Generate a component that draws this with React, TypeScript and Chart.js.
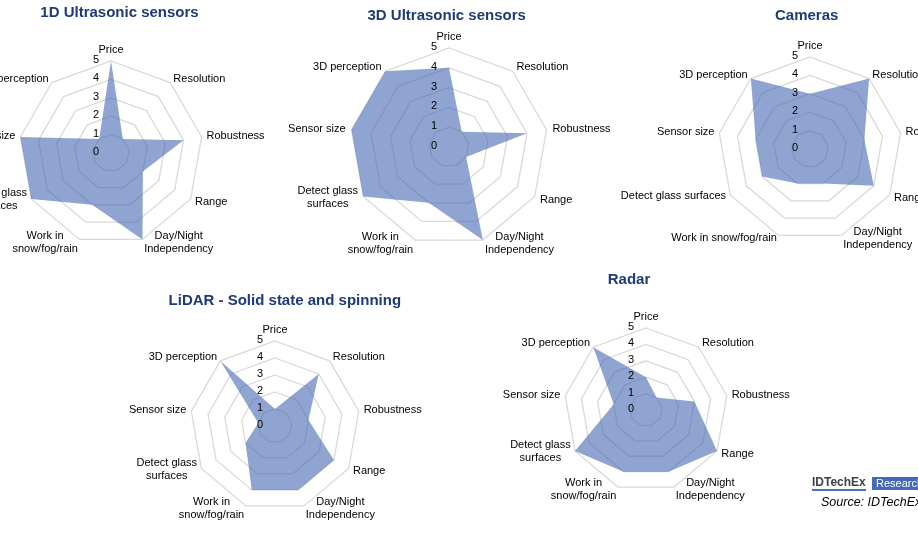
import React, { useEffect, useRef } from "react";
import { Chart, registerables } from "chart.js";

Chart.register(...registerables);

// ---------- DATA ----------
const categories = [
  "Price",
  "Resolution",
  "Robustness",
  "Range",
  "Day/Night Independency",
  "Work in snow/fog/rain",
  "Detect glass surfaces",
  "Sensor size",
  "3D perception",
];

// wrapped label variants (as shown in the panels)
const labelsWrapped: string[][] = [
  ["Price"],
  ["Resolution"],
  ["Robustness"],
  ["Range"],
  ["Day/Night", "Independency"],
  ["Work in", "snow/fog/rain"],
  ["Detect glass", "surfaces"],
  ["Sensor size"],
  ["3D perception"],
];
const labelsCameras: string[][] = [
  ["Price"],
  ["Resolution"],
  ["Robustness"],
  ["Range"],
  ["Day/Night", "Independency"],
  ["Work in snow/fog/rain"],
  ["Detect glass surfaces"],
  ["Sensor size"],
  ["3D perception"],
];

const tickValues = [0, 1, 2, 3, 4, 5];

const ultrasonic1D = [5, 1, 4, 2, 5, 3, 5, 5, 1];
const ultrasonic3D = [4, 1, 4, 1, 5, 3, 5, 5, 5];
const cameras = [3, 5, 3, 4, 2, 2, 3, 3, 5];
const lidar = [1, 4, 2, 4, 4, 4, 2, 1, 5];
const radar = [2, 1, 3, 5, 4, 4, 5, 2, 5];

const titles = [
  "1D Ultrasonic sensors",
  "3D Ultrasonic sensors",
  "Cameras",
  "LiDAR - Solid state and spinning",
  "Radar",
];

// ---------- STYLE ----------
const W = 918;
const H = 538;
const FONT = "'Liberation Sans', Arial, Helvetica, sans-serif";
const FILL = "rgba(68,103,178,0.6)";
const GRID = "#D9D9D9";
const TITLE_COLOR = "#1F3A78";

type PanelProps = {
  values: number[];
  labels: string[][];
  cx: number;
  cy: number;
  r: number;
  pad: number;
};

function makeTextPlugin(labels: string[][], pad: number) {
  return {
    id: "panelText",
    afterDraw(chart: any) {
      const s = chart.scales.r;
      const ctx = chart.ctx as CanvasRenderingContext2D;
      ctx.save();
      ctx.fillStyle = "#000";
      ctx.font = `11px ${FONT}`;
      // tick labels
      ctx.textAlign = "right";
      ctx.textBaseline = "middle";
      tickValues.forEach((v) => {
        const d = s.getDistanceFromCenterForValue(v);
        ctx.fillText(String(v), s.xCenter - 12, s.yCenter - d - 1);
      });
      // point labels
      const lh = 13;
      labels.forEach((lines, i) => {
        const p = s.getPointPosition(i, s.drawingArea + pad);
        const c = Math.cos(p.angle);
        const sn = Math.sin(p.angle);
        const widths = lines.map((l) => ctx.measureText(l).width);
        const bw = Math.max(...widths);
        if (Math.abs(c) < 0.05 && sn < 0) {
          ctx.textAlign = "center";
          ctx.textBaseline = "alphabetic";
          ctx.fillText(lines[0], s.xCenter, s.yCenter - s.drawingArea - 8.5);
          return;
        }
        const left = c > 0 ? p.x : p.x - bw;
        let yMid = p.y - ((lines.length - 1) * lh) / 2;
        if (sn > 0.5) yMid -= 2;
        ctx.textAlign = "center";
        ctx.textBaseline = "middle";
        lines.forEach((l, k) => {
          ctx.fillText(l, left + bw / 2, yMid + k * lh);
        });
      });
      ctx.restore();
    },
  };
}

function RadarPanel({ values, labels, cx, cy, r, pad }: PanelProps) {
  const ref = useRef<HTMLCanvasElement | null>(null);
  useEffect(() => {
    if (!ref.current) return;
    const chart = new Chart(ref.current, {
      type: "radar",
      data: {
        labels: categories,
        datasets: [
          {
            data: values,
            backgroundColor: FILL,
            borderWidth: 0,
            borderColor: "rgba(0,0,0,0)",
            pointRadius: 0,
            pointHoverRadius: 0,
            fill: true,
            tension: 0,
          },
        ],
      },
      options: {
        responsive: false,
        animation: false,
        events: [],
        layout: {
          padding: {
            left: cx - r,
            top: cy - r,
            right: W - cx - r,
            bottom: H - cy - r,
          },
        },
        plugins: {
          legend: { display: false },
          tooltip: { enabled: false },
          title: { display: false },
        },
        scales: {
          r: {
            min: 0,
            max: 5,
            ticks: { stepSize: 1, display: false },
            pointLabels: { display: false },
            angleLines: { display: false },
            grid: { color: GRID, lineWidth: 1.3 },
          },
        },
      } as any,
      plugins: [makeTextPlugin(labels, pad)],
    });
    return () => chart.destroy();
  }, []);
  return (
    <canvas
      ref={ref}
      width={W}
      height={H}
      style={{ position: "absolute", left: 0, top: 0, width: W, height: H }}
    />
  );
}

function Title({ text, cx, cy }: { text: string; cx: number; cy: number }) {
  return (
    <div
      style={{
        position: "absolute",
        left: cx - 200,
        width: 400,
        top: cy - 9,
        height: 18,
        lineHeight: "18px",
        textAlign: "center",
        font: `bold 15px ${FONT}`,
        color: TITLE_COLOR,
        whiteSpace: "nowrap",
      }}
    >
      {text}
    </div>
  );
}

export default function App() {
  return (
    <div
      style={{
        position: "fixed",
        left: 0,
        top: 0,
        width: W,
        height: H,
        overflow: "hidden",
        background: "#fff",
      }}
    >
      <RadarPanel values={ultrasonic1D} labels={labelsWrapped} cx={111} cy={153} r={92} pad={5} />
      <RadarPanel values={ultrasonic3D} labels={labelsWrapped} cx={449} cy={147} r={99} pad={6} />
      <RadarPanel values={cameras} labels={labelsCameras} cx={810} cy={149} r={92} pad={5} />
      <RadarPanel values={lidar} labels={labelsWrapped} cx={275} cy={426} r={85} pad={5} />
      <RadarPanel values={radar} labels={labelsWrapped} cx={646} cy={410} r={82} pad={5} />

      <Title text={titles[0]} cx={119.5} cy={12} />
      <Title text={titles[1]} cx={446.7} cy={15} />
      <Title text={titles[2]} cx={806.7} cy={15} />
      <Title text={titles[3]} cx={284.8} cy={300} />
      <Title text={titles[4]} cx={629} cy={279} />

      <div
        style={{
          position: "absolute",
          left: 812,
          top: 476,
          font: `bold 12px ${FONT}`,
          lineHeight: "13px",
          color: "#404040",
          borderBottom: "2px solid #4A6FBE",
          whiteSpace: "nowrap",
        }}
      >
        IDTechEx
      </div>
      <div
        style={{
          position: "absolute",
          left: 872,
          top: 477,
          width: 60,
          height: 13,
          background: "#4569B8",
          color: "#fff",
          font: `11px ${FONT}`,
          lineHeight: "13px",
          paddingLeft: 4,
          whiteSpace: "nowrap",
        }}
      >
        Research
      </div>
      <div
        style={{
          position: "absolute",
          left: 821,
          top: 494,
          font: `italic 12.5px ${FONT}`,
          lineHeight: "16px",
          color: "#000",
          whiteSpace: "nowrap",
        }}
      >
        Source: IDTechEx
      </div>
    </div>
  );
}
